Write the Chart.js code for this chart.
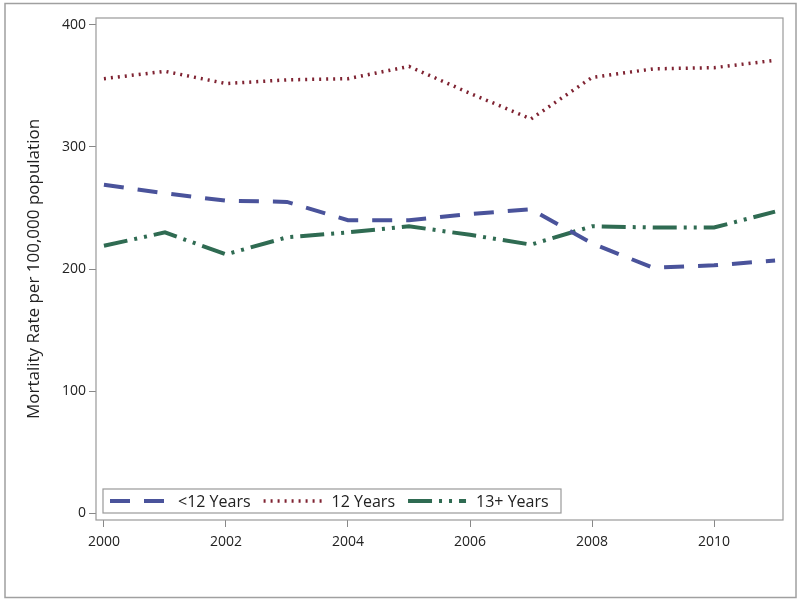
<!DOCTYPE html>
<html>
<head>
<meta charset="utf-8">
<script src="https://cdn.jsdelivr.net/npm/chart.js@4.4.1/dist/chart.umd.min.js"></script>
<style>
  html, body { margin: 0; padding: 0; background: #fff; }
  #wrap { width: 800px; height: 601px; }
</style>
</head>
<body>
<div id="wrap"><canvas id="chart" width="800" height="601"></canvas></div>
<script>
// values
const years = [2000, 2001, 2002, 2003, 2004, 2005, 2006, 2007, 2008, 2009, 2010, 2011];
const under12 = [269, 262, 256, 255, 240, 240, 245, 249, 221, 201, 203, 207];
const twelve = [356, 362, 352, 355, 356, 366, 344, 323, 357, 364, 365, 371];
const thirteenPlus = [219, 230, 212, 226, 230, 235, 228, 220, 235, 234, 234, 247];
const xTicks = [2000, 2002, 2004, 2006, 2008, 2010];
const yTicks = [0, 100, 200, 300, 400];

const FONT = '"Open Sans", "Noto Sans", sans-serif';

const toPoints = vals => vals.map((v, i) => ({ x: years[i], y: v }));

// frame around the whole picture and round the plot area
const framePlugin = {
    id: 'frame',
    beforeDraw(chart) {
        const ctx = chart.ctx;
        ctx.save();
        ctx.fillStyle = '#fff';
        ctx.fillRect(0, 0, chart.width, chart.height);
        ctx.strokeStyle = '#a0a0a0';
        ctx.lineWidth = 1.5;
        ctx.strokeRect(5, 3.5, chart.width - 9, chart.height - 7);
        ctx.restore();
    },
    afterDraw(chart) {
        const a = chart.chartArea;
        const ctx = chart.ctx;
        ctx.save();
        ctx.strokeStyle = '#999';
        ctx.lineWidth = 1.2;
        ctx.strokeRect(a.left, a.top, a.right - a.left, a.bottom - a.top);
        ctx.restore();
    }
};

// legend drawn inside the plot, at its lower left
const insideLegend = {
    id: 'insideLegend',
    afterDatasetsDraw(chart) {
        const a = chart.chartArea;
        const ctx = chart.ctx;
        const boxX = a.left + 7, boxY = a.bottom - 31, boxW = 458, boxH = 24;
        ctx.save();
        ctx.fillStyle = '#fff';
        ctx.fillRect(boxX, boxY, boxW, boxH);
        ctx.strokeStyle = '#999';
        ctx.lineWidth = 1.2;
        ctx.strokeRect(boxX, boxY, boxW, boxH);
        ctx.font = '16px ' + FONT;
        ctx.textBaseline = 'middle';
        let x = boxX + 7;
        const y = boxY + boxH / 2;
        chart.data.datasets.forEach(ds => {
            ctx.beginPath();
            ctx.strokeStyle = ds.borderColor;
            ctx.lineWidth = ds.borderWidth;
            ctx.setLineDash(ds.borderDash || []);
            ctx.moveTo(x, y);
            ctx.lineTo(x + 58, y);
            ctx.stroke();
            ctx.setLineDash([]);
            x += 68;
            ctx.fillStyle = '#222';
            ctx.fillText(ds.label, x, y + 1);
            x += ctx.measureText(ds.label).width + 13;
        });
        ctx.restore();
    }
};

const ctx = document.getElementById('chart').getContext('2d');
new Chart(ctx, {
    type: 'line',
    data: {
        datasets: [
            {
                label: '<12 Years',
                data: toPoints(under12),
                borderColor: '#4a539b',
                borderWidth: 4,
                borderDash: [20, 14]
            },
            {
                label: '12 Years',
                data: toPoints(twelve),
                borderColor: '#7f2332',
                borderWidth: 3.5,
                borderDash: [2, 5]
            },
            {
                label: '13+ Years',
                data: toPoints(thirteenPlus),
                borderColor: '#2f6b52',
                borderWidth: 4,
                borderDash: [24, 7, 3, 7, 3, 7]
            }
        ]
    },
    options: {
        responsive: false,
        animation: false,
        devicePixelRatio: 1,
        elements: { point: { radius: 0 }, line: { tension: 0, fill: false } },
        layout: { padding: { top: 18, right: 17, bottom: 0, left: 0 } },
        plugins: {
            legend: { display: false },
            tooltip: { enabled: false }
        },
        scales: {
            x: {
                type: 'linear',
                min: 1999.87,
                max: 2011.13,
                afterBuildTicks: scale => { scale.ticks = xTicks.map(v => ({ value: v })); },
                afterFit: scale => { scale.height = 81; },
                grid: { drawOnChartArea: false, drawTicks: true, tickLength: 7, color: '#888' },
                border: { display: false },
                ticks: {
                    callback: v => String(v),
                    color: '#222',
                    padding: 7,
                    maxRotation: 0,
                    font: { family: FONT, size: 14 }
                }
            },
            y: {
                min: -5.7,
                max: 405.7,
                afterBuildTicks: scale => { scale.ticks = yTicks.map(v => ({ value: v })); },
                afterFit: scale => { scale.width = 96; },
                grid: { drawOnChartArea: false, drawTicks: true, tickLength: 7, color: '#888' },
                border: { display: false },
                ticks: {
                    callback: v => String(v),
                    color: '#222',
                    padding: 3,
                    font: { family: FONT, size: 14 }
                },
                title: {
                    display: true,
                    text: 'Mortality Rate per 100,000 population',
                    color: '#222',
                    padding: { top: 24, bottom: 0 },
                    font: { family: FONT, size: 17 }
                }
            }
        }
    },
    plugins: [framePlugin, insideLegend]
});
</script>
</body>
</html>
